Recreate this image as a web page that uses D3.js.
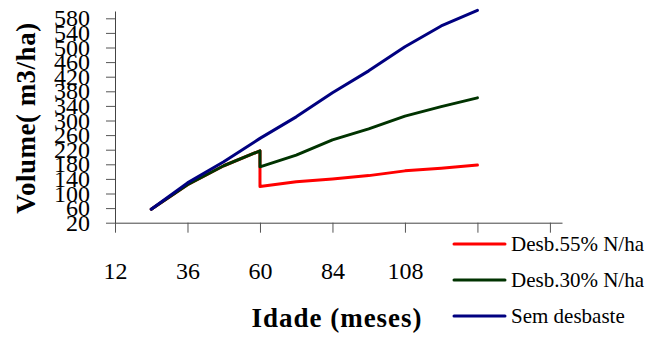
<!DOCTYPE html>
<html>
<head>
<meta charset="utf-8">
<script src="https://cdn.jsdelivr.net/npm/d3@7"></script>
<style>
  html, body { margin: 0; padding: 0; background: #fff; }
  svg text { font-family: "Liberation Serif", "Times New Roman", Times, serif; }
</style>
</head>
<body>
<svg id="chart" width="648" height="338"></svg>
<script>
// Stand volume over age for three thinning regimes
const monthsFull = [24, 36, 48, 60, 72, 84, 96, 108, 120, 132];
// thinned series drop at 60 months, so 60 appears twice
const monthsThinned = [24, 36, 48, 60, 60, 72, 84, 96, 108, 120, 132];
const semDesbaste = [57, 129, 187, 251, 310, 376, 436, 502, 559, 602];
const desb30 = [57, 124, 176, 217, 173, 205, 247, 277, 312, 338, 362];
const desb55 = [57, 124, 176, 217, 119, 132, 140, 149, 162, 169, 178];
const seriesNames = ["Desb.55% N/ha", "Desb.30% N/ha", "Sem desbaste"];
const seriesColors = ["#ff0000", "#003300", "#000080"];
const xTicks = [12, 36, 60, 84, 108, 132, 156];
const xTickLabels = ["12", "36", "60", "84", "108", "", ""];
const yTicks = [20, 60, 100, 140, 180, 220, 260, 300, 340, 380, 420, 460, 500, 540, 580];

const svg = d3.select("#chart");

const x = d3.scaleLinear().domain([12, 160]).range([115, 562]);
const y = d3.scaleLinear().domain([20, 600]).range([222.7, 11]);

// x axis
const xAxis = d3.axisBottom(x)
  .tickValues(xTicks)
  .tickSize(10)
  .tickSizeOuter(0)
  .tickFormat((d, i) => xTickLabels[i]);
const gx = svg.append("g").attr("transform", `translate(0,${y(20)})`).call(xAxis);
gx.attr("font-family", null);
gx.select(".domain").attr("stroke", "#444");
gx.selectAll(".tick line").attr("stroke", "#555");
gx.selectAll(".tick text")
  .attr("fill", "#000")
  .attr("font-size", 24)
  .attr("dy", 0)
  .attr("y", 56);

// y axis
const yAxis = d3.axisLeft(y)
  .tickValues(yTicks)
  .tickSize(9)
  .tickSizeOuter(0)
  .tickFormat(d3.format("d"));
const gy = svg.append("g").attr("transform", `translate(${x(12)},0)`).call(yAxis);
gy.attr("font-family", null);
gy.select(".domain").attr("stroke", "#444");
gy.selectAll(".tick line").attr("stroke", "#555");
gy.selectAll(".tick text")
  .attr("fill", "#000")
  .attr("font-size", 24)
  .attr("x", -25);

// series lines
const line = d3.line().x(d => x(d[0])).y(d => y(d[1]));
const seriesData = [
  d3.zip(monthsThinned, desb55),
  d3.zip(monthsThinned, desb30),
  d3.zip(monthsFull, semDesbaste)
];
svg.append("g").selectAll("path")
  .data(seriesData)
  .join("path")
  .attr("d", line)
  .attr("fill", "none")
  .attr("stroke", (d, i) => seriesColors[i])
  .attr("stroke-width", 3)
  .attr("stroke-linejoin", "round")
  .attr("stroke-linecap", "round");

// legend
const legend = svg.append("g");
const legendY = [244, 280, 316];
seriesNames.forEach((name, i) => {
  legend.append("line")
    .attr("x1", 454).attr("x2", 505)
    .attr("y1", legendY[i]).attr("y2", legendY[i])
    .attr("stroke", seriesColors[i])
    .attr("stroke-width", 3)
    .attr("stroke-linecap", "round");
  legend.append("text")
    .attr("x", 511)
    .attr("y", legendY[i] + 7)
    .attr("font-size", 21)
    .attr("fill", "#000")
    .text(name);
});

// axis titles
svg.append("text")
  .attr("x", 337)
  .attr("y", 327)
  .attr("text-anchor", "middle")
  .attr("font-size", 27)
  .attr("font-weight", "bold")
  .attr("letter-spacing", 1)
  .attr("fill", "#000")
  .text("Idade (meses)");

svg.append("text")
  .attr("transform", "translate(35,118) rotate(-90)")
  .attr("text-anchor", "middle")
  .attr("font-size", 27)
  .attr("font-weight", "bold")
  .attr("letter-spacing", 0.5)
  .attr("fill", "#000")
  .text("Volume( m3/ha)");
</script>
</body>
</html>
